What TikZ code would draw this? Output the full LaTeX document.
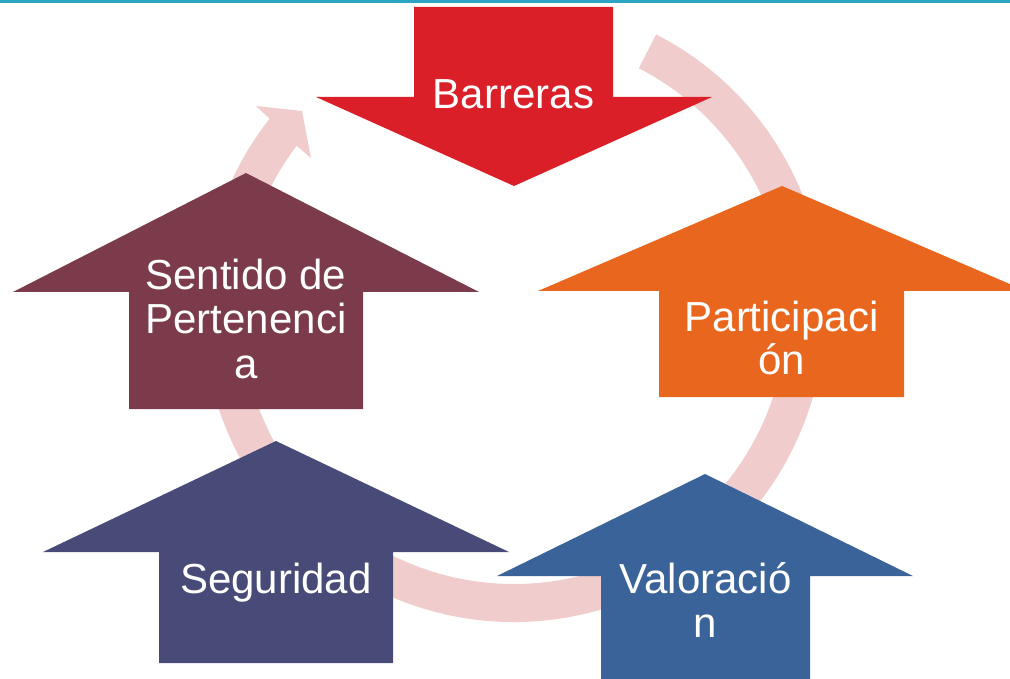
\documentclass[tikz,border=0pt]{standalone}
\usepackage{fontspec}
\setmainfont{Liberation Sans}
\usetikzlibrary{calc}
\definecolor{topline}{HTML}{2CA5C2}
\definecolor{ringc}{HTML}{F0CCCD}
\definecolor{cred}{HTML}{DA1F28}
\definecolor{corange}{HTML}{E9661F}
\definecolor{cblue}{HTML}{3A6499}
\definecolor{cnavy}{HTML}{484B77}
\definecolor{cmaroon}{HTML}{7B3B4B}
\begin{document}
\begin{tikzpicture}[x=1pt,y=-1pt,
  lbl/.style={text=white, font=\fontsize{42}{44}\selectfont, inner sep=0pt, anchor=base}]
\useasboundingbox (0,0) rectangle (1010,679);
\clip (0,0) rectangle (1010,679);
% top rule
\fill[topline] (0,0) rectangle (1010,3);
% circular arrow ring
\coordinate (c) at (514,311);
\coordinate (hb1) at (256,106);
\coordinate (htip) at (302,111);
\coordinate (hb2) at (311,158);
\fill[ringc] ($(c)+(-62.8:311)$) arc[start angle=-62.8, end angle=218.2, radius=311]
  -- (hb1) -- (htip) -- (hb2) -- ($(c)+(217.25:273)$)
  arc[start angle=217.25, end angle=-62.8, radius=273] -- cycle;
% Barreras (down arrow)
\fill[cred] (414,7) -- (613,7) -- (613,97) -- (712,97) -- (514,186) -- (316,97) -- (414,97) -- cycle;
\node[lbl] (bar) at (513.5,109) {Barreras};
% Sentido de Pertenencia
\fill[cmaroon] (129,409) -- (129,292) -- (13,292) -- (246,173) -- (479,292) -- (363,292) -- (363,409) -- cycle;
\node[lbl] (sen1) at (246,290) {Sentido de};
\node[lbl] (sen2) at (246,334) {Pertenenci};
\node[lbl] (sen3) at (246,378) {a};
% Participacion
\fill[corange] (659,397) -- (659,291) -- (538,291) -- (782,186) -- (1026,291) -- (904,291) -- (904,397) -- cycle;
\node[lbl] (par1) at (781.5,331) {Participaci};
\node[lbl] (par2) at (781.5,374) {ón};
% Seguridad
\fill[cnavy] (159,663) -- (159,552) -- (43,552) -- (276,441) -- (509,552) -- (393,552) -- (393,663) -- cycle;
\node[lbl] (seg) at (276,593) {Seguridad};
% Valoracion
\fill[cblue] (601,700) -- (601,576) -- (497,576) -- (705,474) -- (913,576) -- (810,576) -- (810,700) -- cycle;
\node[lbl] (val1) at (705.5,593) {Valoració};
\node[lbl] (val2) at (705.5,637) {n};
\end{tikzpicture}
\end{document}
